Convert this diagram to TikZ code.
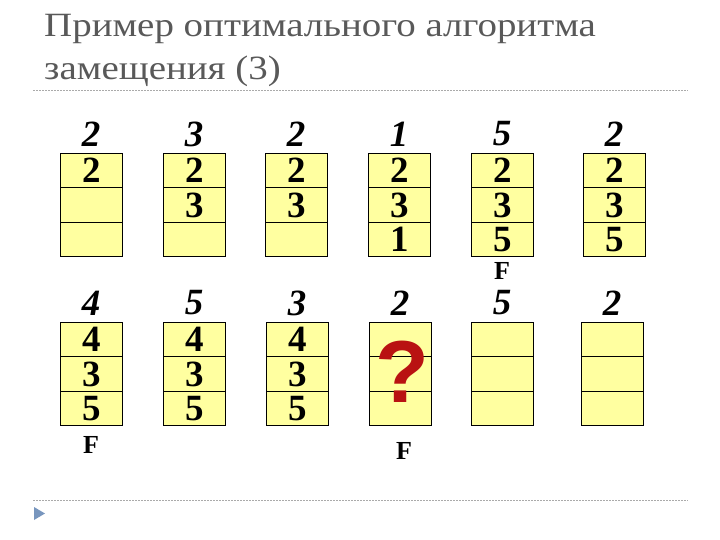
\documentclass[tikz,border=0pt]{standalone}
\usepackage{fontspec}
\setmainfont{Liberation Serif}
\newfontfamily\titlefont{Liberation Serif}
\newfontfamily\qfont{Liberation Sans}
\definecolor{cellfill}{RGB}{255,255,160}
\definecolor{titlegray}{RGB}{89,89,89}
\definecolor{qred}{RGB}{185,18,18}
\definecolor{rulegray}{RGB}{170,170,170}
\definecolor{bulletblue}{RGB}{120,150,190}
\tikzset{
  cell/.style={draw=black, line width=1.1pt, fill=cellfill, minimum width=62pt, minimum height=34.33pt, inner sep=0pt, anchor=north west, font=\fontsize{37}{37}\selectfont\bfseries},
  lbl/.style={inner sep=0pt, font=\fontsize{37}{37}\selectfont\bfseries\itshape},
  fmark/.style={inner sep=0pt, font=\fontsize{26}{26}\selectfont\bfseries},
  ttl/.style={inner sep=0pt, anchor=base west, text=titlegray, font=\fontsize{34}{34}\titlefont},
  sep/.style={draw=rulegray, line width=0.8pt, dash pattern=on 2pt off 1pt}
}
\begin{document}
\begin{tikzpicture}[x=1pt,y=-1pt]
\useasboundingbox (0,0) rectangle (720,540);
% title
\node[ttl] (t1) at (44,37) {\scalebox{1.145}[1]{Пример оптимального алгоритма}};
\node[ttl] (t2) at (44,80) {\scalebox{1.145}[1]{замещения (3)}};
\coordinate (r1a) at (33,90); \coordinate (r1b) at (688,90);
\draw[sep] (r1a) -- (r1b);
\coordinate (r2a) at (33,500); \coordinate (r2b) at (688,500);
\draw[sep] (r2a) -- (r2b);
\fill[bulletblue] (34,507) -- (45,513.5) -- (34,520) -- cycle;
% row 1
\foreach \i/\x/\l/\a/\b/\c in {1/60/2/2//, 2/163/3/2/3/, 3/265/2/2/3/, 4/368/1/2/3/1, 5/471/5/2/3/5, 6/583/2/2/3/5}{
  \node[cell] (u\i a) at (\x,153) {\a};
  \node[cell] (u\i b) at (\x,187.33) {\b};
  \node[cell] (u\i c) at (\x,221.67) {\c};
  \node[lbl] (ul\i) at (\x+31,134) {\l};
}
% row 2
\foreach \i/\x/\l/\a/\b/\c in {1/60/4/4/3/5, 2/163/5/4/3/5, 3/266/3/4/3/5, 4/369/2///, 5/471/5///, 6/581/2///}{
  \node[cell] (w\i a) at (\x,322) {\a};
  \node[cell] (w\i b) at (\x,356.33) {\b};
  \node[cell] (w\i c) at (\x,390.67) {\c};
  \node[lbl] (wl\i) at (\x+31,303) {\l};
}
\node[inner sep=0pt, text=qred, font=\fontsize{88}{88}\qfont\bfseries] (q) at (402,372) {?};
\node[fmark] (f1) at (502,271) {F};
\node[fmark] (f2) at (91,445) {F};
\node[fmark] (f3) at (404,451) {F};
\end{tikzpicture}
\end{document}
